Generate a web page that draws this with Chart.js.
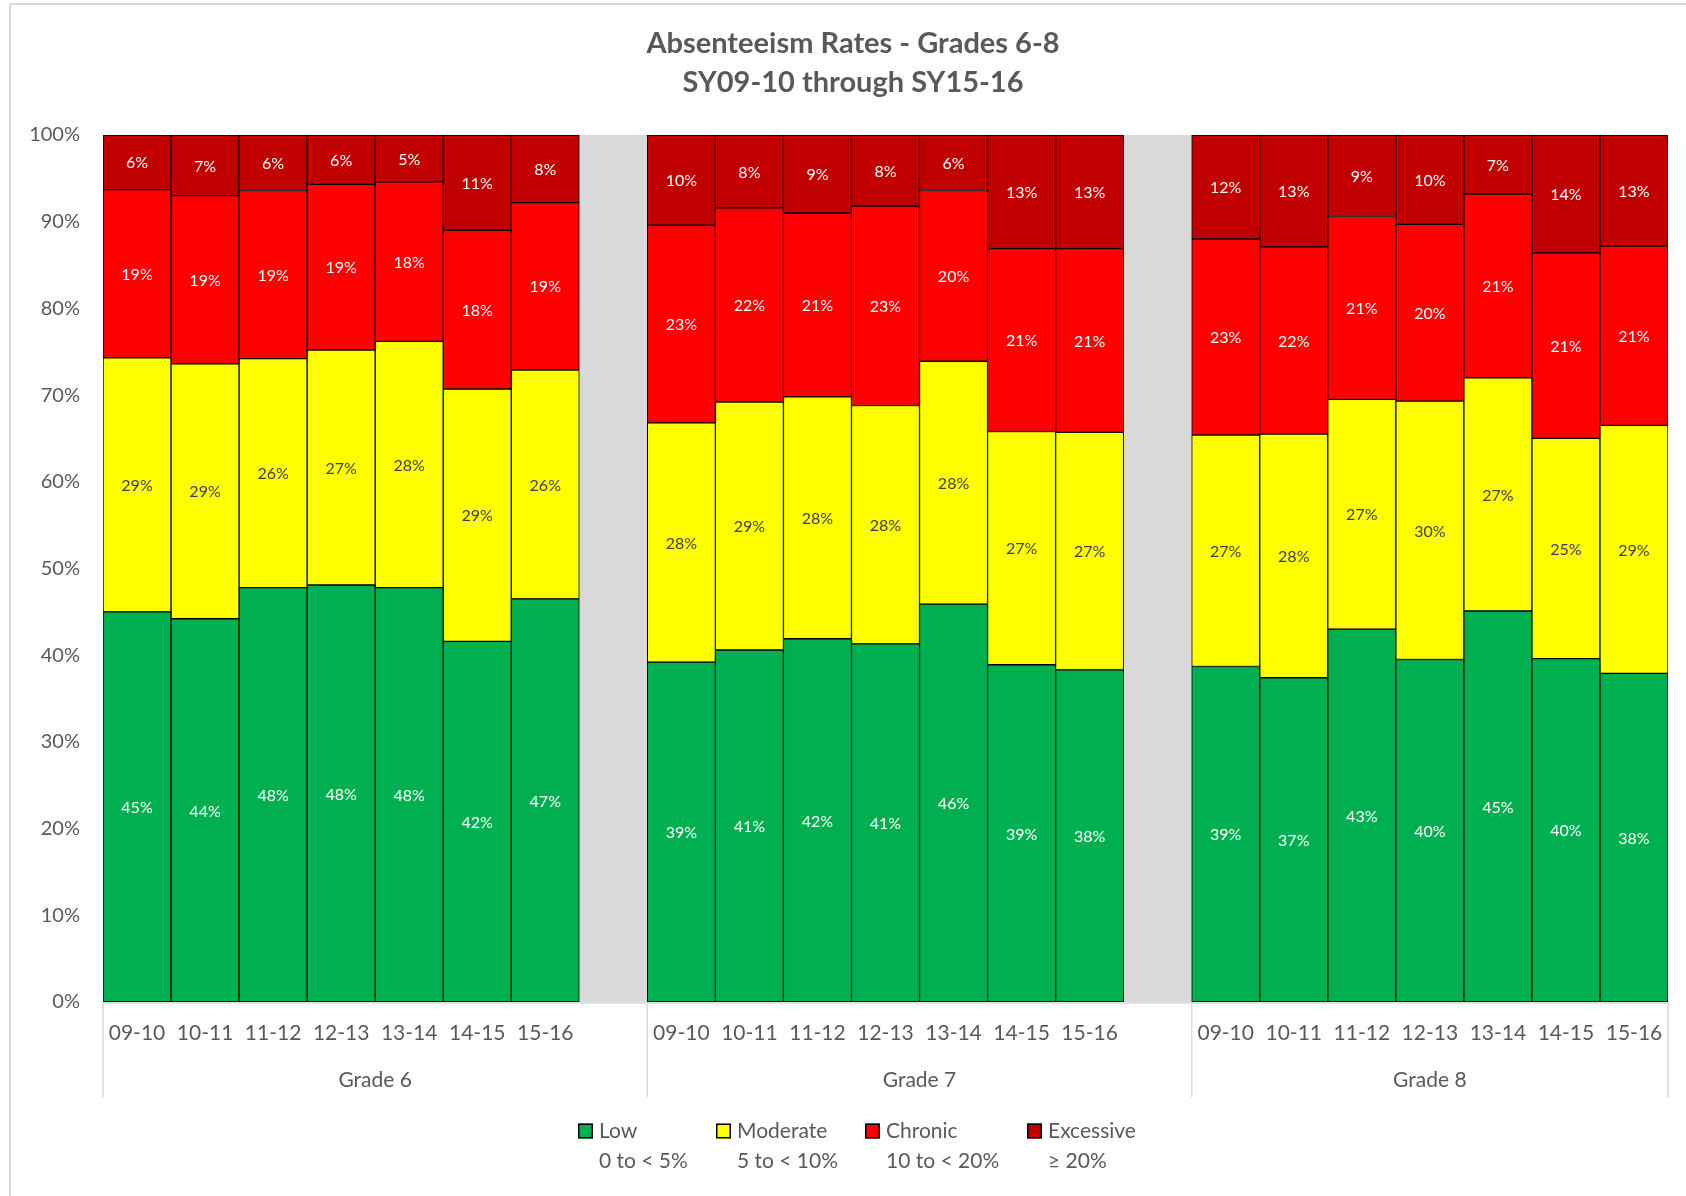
<!DOCTYPE html>
<html>
<head>
<meta charset="utf-8">
<title>Absenteeism Rates - Grades 6-8</title>
<script src="https://cdn.jsdelivr.net/npm/chart.js@4.4.1/dist/chart.umd.min.js"></script>
<style>
    html, body { margin: 0; padding: 0; background: #fff; }
    #wrap { width: 1686px; height: 1196px; position: relative; }
</style>
</head>
<body>
<div id="wrap"><canvas id="absChart" width="1686" height="1196"></canvas></div>
<script>
// School years shown inside each grade, and the grades themselves
const years = ['09-10', '10-11', '11-12', '12-13', '13-14', '14-15', '15-16'];
const grades = ['Grade 6', 'Grade 7', 'Grade 8'];

const titleLines = ['Absenteeism Rates - Grades 6-8', 'SY09-10 through SY15-16'];
const seriesNames = ['Low', 'Moderate', 'Chronic', 'Excessive'];
const bandRanges = ['0 to < 5%', '5 to < 10%', '10 to < 20%', '\u2265 20%'];

// Share of students (%) per band: Grade 6 years, then Grade 7, then Grade 8
const lowPct = [
    45.0, 44.2, 47.8, 48.1, 47.8, 41.6, 46.5,
    39.2, 40.6, 41.9, 41.3, 45.9, 38.9, 38.3,
    38.7, 37.4, 43.0, 39.5, 45.1, 39.6, 37.9
];
const moderatePct = [
    29.3, 29.4, 26.4, 27.1, 28.4, 29.1, 26.4,
    27.6, 28.6, 27.9, 27.5, 28.0, 26.9, 27.4,
    26.7, 28.1, 26.5, 29.8, 26.9, 25.4, 28.6
];
const chronicPct = [
    19.4, 19.4, 19.4, 19.1, 18.4, 18.3, 19.3,
    22.8, 22.4, 21.2, 23.0, 19.7, 21.1, 21.2,
    22.6, 21.6, 21.1, 20.4, 21.2, 21.4, 20.7
];
const excessivePct = [
    6.3, 7.0, 6.4, 5.7, 5.4, 11.0, 7.8,
    10.4, 8.4, 9.0, 8.2, 6.4, 13.1, 13.1,
    12.0, 12.9, 9.4, 10.3, 6.8, 13.6, 12.8
];
// the grey spacer column between grades fills the whole 0-100% range
const spacerPct = 100;

const FONT = 'Lato, "Open Sans", sans-serif';
const TEXT_GREY = '#595959';
const colors = ['#00B050', '#FFFF00', '#FF0000', '#C00000'];

// Build category list with one empty spacer category between grades
const labels = [];
const gapIndex = [];
grades.forEach((g, gi) => {
    years.forEach(y => labels.push(y));
    if (gi < grades.length - 1) {
        gapIndex.push(labels.length);
        labels.push('');
    }
});

function withGaps(values) {
    const out = [];
    let k = 0;
    grades.forEach((g, gi) => {
        years.forEach(() => out.push(values[k++]));
        if (gi < grades.length - 1) out.push(null);
    });
    return out;
}

const spacerData = labels.map((l, i) => gapIndex.includes(i) ? spacerPct : null);

const seriesValues = [lowPct, moderatePct, chronicPct, excessivePct];
const datasets = seriesValues.map((vals, i) => ({
    label: seriesNames[i],
    data: withGaps(vals),
    backgroundColor: colors[i],
    borderColor: '#000000',
    borderWidth: 1,
    borderSkipped: false,
    stack: 'bands'
}));
datasets.push({
    label: 'spacer',
    data: spacerData,
    backgroundColor: '#D9D9D9',
    borderWidth: 0,
    stack: 'bands'
});

const decorPlugin = {
    id: 'decor',
    beforeDraw(chart) {
        const ctx = chart.ctx;
        ctx.save();
        // outer chart frame (only left and top edges are inside the picture)
        ctx.strokeStyle = '#D9D9D9';
        ctx.lineWidth = 2;
        ctx.beginPath();
        ctx.moveTo(10, chart.height + 5);
        ctx.lineTo(10, 4);
        ctx.lineTo(chart.width + 5, 4);
        ctx.stroke();

        // title
        ctx.fillStyle = TEXT_GREY;
        ctx.font = 'bold 29px ' + FONT;
        ctx.textAlign = 'center';
        ctx.textBaseline = 'middle';
        ctx.fillText(titleLines[0], 853, 44);
        ctx.fillText(titleLines[1], 853, 83);
        ctx.restore();
    },
    afterDatasetsDraw(chart) {
        const ctx = chart.ctx;
        ctx.save();
        ctx.font = '16px ' + FONT;
        ctx.textAlign = 'center';
        ctx.textBaseline = 'middle';
        for (let d = 0; d < seriesNames.length; d++) {
            const meta = chart.getDatasetMeta(d);
            const data = chart.data.datasets[d].data;
            meta.data.forEach((el, i) => {
                const v = data[i];
                if (v === null || v === undefined) return;
                const p = el.getProps(['x', 'y', 'base'], true);
                ctx.fillStyle = d === 1 ? '#404040' : '#FFFFFF';
                ctx.fillText(Math.round(v) + '%', p.x, (p.y + p.base) / 2 + 1);
            });
        }
        ctx.restore();
    },
    afterDraw(chart) {
        const ctx = chart.ctx;
        const area = chart.chartArea;
        const xs = chart.scales.x;
        const catW = (area.right - area.left) / labels.length;
        ctx.save();

        // axis line
        ctx.strokeStyle = '#D9D9D9';
        ctx.lineWidth = 1.5;
        ctx.beginPath();
        ctx.moveTo(area.left, area.bottom + 1);
        ctx.lineTo(area.right, area.bottom + 1);
        ctx.stroke();

        // year labels
        ctx.fillStyle = TEXT_GREY;
        ctx.font = '21px ' + FONT;
        ctx.textAlign = 'center';
        ctx.textBaseline = 'middle';
        labels.forEach((l, i) => {
            if (!l) return;
            ctx.fillText(l, xs.getPixelForValue(i), area.bottom + 31);
        });

        // grade group labels and separators
        let start = 0;
        const bounds = [];
        grades.forEach((g, gi) => {
            const count = years.length + (gi < grades.length - 1 ? 1 : 0);
            const x0 = xs.getPixelForValue(start) - catW / 2;
            const x1 = gi < grades.length - 1 ? xs.getPixelForValue(start + count) - catW / 2 : area.right;
            bounds.push(x0);
            if (gi === grades.length - 1) bounds.push(x1);
            ctx.fillText(g, (x0 + x1) / 2, area.bottom + 78);
            start += count;
        });
        ctx.strokeStyle = '#D9D9D9';
        ctx.lineWidth = 1.5;
        bounds.forEach(x => {
            ctx.beginPath();
            ctx.moveTo(x, area.bottom);
            ctx.lineTo(x, area.bottom + 95);
            ctx.stroke();
        });

        // legend (two-line entries)
        const legendX = [578, 716, 865, 1027];
        const line1 = 1131;
        const line2 = 1161;
        ctx.textAlign = 'left';
        seriesNames.forEach((name, i) => {
            const bx = legendX[i];
            ctx.fillStyle = colors[i];
            ctx.fillRect(bx, line1 - 7.5, 15, 15);
            ctx.strokeStyle = '#000000';
            ctx.lineWidth = 1.5;
            ctx.strokeRect(bx + 0.75, line1 - 6.75, 13.5, 13.5);
            ctx.fillStyle = TEXT_GREY;
            ctx.fillText(name, bx + 21, line1);
            ctx.fillText(bandRanges[i], bx + 21, line2);
        });
        ctx.restore();
    }
};

const ctx = document.getElementById('absChart');
new Chart(ctx, {
    type: 'bar',
    data: { labels: labels, datasets: datasets },
    options: {
        responsive: false,
        animation: false,
        layout: { padding: { left: 0, right: 18, top: 135, bottom: 194 } },
        datasets: {
            bar: { categoryPercentage: 1.0, barPercentage: 1.0 }
        },
        plugins: {
            legend: { display: false },
            tooltip: { enabled: false },
            title: { display: false }
        },
        scales: {
            x: {
                stacked: true,
                display: false
            },
            y: {
                stacked: true,
                min: 0,
                max: 100,
                ticks: {
                    stepSize: 10,
                    color: TEXT_GREY,
                    font: { family: FONT, size: 20 },
                    padding: 23,
                    callback: (v) => v + '%'
                },
                grid: { display: false, drawTicks: false },
                border: { display: false },
                afterFit: (scale) => { scale.width = 103; }
            }
        }
    },
    plugins: [decorPlugin]
});
</script>
</body>
</html>
